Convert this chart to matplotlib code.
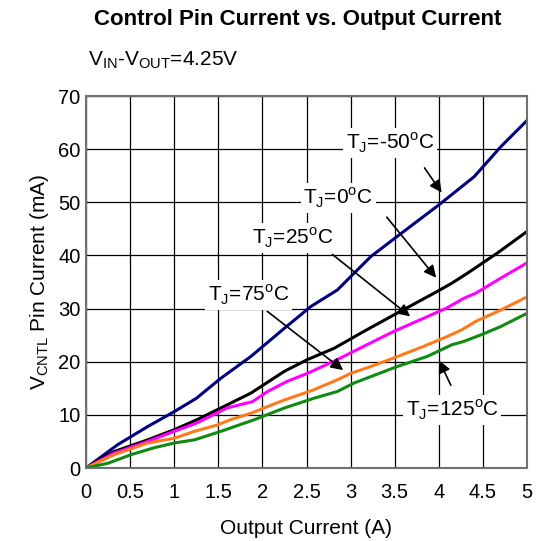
import matplotlib
matplotlib.use('Agg')
import matplotlib.pyplot as plt

plt.rcParams['font.family'] = ['Liberation Sans', 'DejaVu Sans']
plt.rcParams['mathtext.fontset'] = 'custom'
plt.rcParams['mathtext.rm'] = 'Liberation Sans'

# output current (A) vs control pin current (mA), one trace per junction temp
x_m50 = [0, 0.36, 0.70, 1.0, 1.25, 1.53, 1.87, 2.25, 2.55, 2.85, 3.0, 3.23, 3.57, 4.0, 4.40, 4.70, 5.0]
y_m50 = [0, 4.4, 7.8, 10.6, 13.1, 16.9, 21.0, 26.3, 30.4, 33.5, 36.0, 39.8, 44.1, 49.5, 54.8, 60.4, 65.4]

x_0 = [0, 0.32, 0.70, 1.0, 1.26, 1.53, 1.87, 2.25, 2.51, 2.81, 3.15, 3.49, 3.98, 4.15, 4.32, 4.66, 5.0]
y_0 = [0, 3.1, 5.3, 7.2, 9.1, 11.3, 14.1, 18.2, 20.4, 22.5, 25.7, 28.8, 33.2, 34.8, 36.6, 40.4, 44.5]

x_25 = [0, 0.32, 0.70, 1.0, 1.26, 1.60, 1.89, 2.06, 2.28, 2.51, 2.85, 3.15, 3.49, 3.79, 4.09, 4.28, 4.42, 4.70, 5.0]
y_25 = [0, 2.8, 5.0, 6.9, 8.5, 11.3, 12.5, 14.4, 16.3, 17.8, 20.4, 22.9, 25.7, 27.9, 30.1, 31.9, 32.9, 35.7, 38.6]

x_75 = [0, 0.32, 0.70, 1.0, 1.23, 1.49, 1.64, 1.87, 2.02, 2.25, 2.58, 2.85, 3.0, 3.23, 3.49, 3.83, 4.09, 4.26, 4.42, 4.70, 5.0]
y_75 = [0, 2.5, 4.7, 5.6, 6.9, 8.1, 9.1, 10.3, 11.3, 12.8, 14.7, 16.6, 17.8, 19.1, 20.7, 22.9, 24.7, 26.0, 27.6, 29.7, 32.2]

x_125 = [0, 0.25, 0.51, 0.77, 1.0, 1.23, 1.53, 1.91, 2.25, 2.58, 2.85, 3.04, 3.53, 3.87, 4.15, 4.28, 4.47, 4.70, 5.0]
y_125 = [0, 0.9, 2.5, 3.8, 4.7, 5.3, 6.9, 9.1, 11.3, 13.1, 14.4, 16.0, 19.1, 21.0, 23.2, 23.8, 25.0, 26.6, 29.1]

fig = plt.figure(figsize=(5.36, 5.41), dpi=100)
ax = fig.add_axes([86/536, 73/541, 441/536, 372/541])

ax.plot(x_m50, y_m50, color='#000080', lw=2.2)
ax.plot(x_0, y_0, color='black', lw=2.2)
ax.plot(x_25, y_25, color='#ff00ff', lw=2.2)
ax.plot(x_75, y_75, color='#ff7a1a', lw=2.2)
ax.plot(x_125, y_125, color='#108a10', lw=2.2)

ax.set_xlim(0, 5)
ax.set_ylim(0, 70)
ax.set_xticks([0, 0.5, 1, 1.5, 2, 2.5, 3, 3.5, 4, 4.5, 5])
ax.set_xticklabels(['0', '0.5', '1', '1.5', '2', '2.5', '3', '3.5', '4', '4.5', '5'])
ax.set_yticks(range(0, 71, 10))
ax.grid(True, color='black', lw=0.9)
ax.tick_params(length=0, labelsize=14.5)
ax.tick_params(axis='x', pad=11)
ax.tick_params(axis='y', pad=4)
for s in ax.spines.values():
    s.set_color('#707070')
    s.set_linewidth(1.5)

ax.set_xlabel('Output Current (A)', fontsize=15, labelpad=12)
ax.set_ylabel(r'V$_\mathregular{CNTL}$ Pin Current (mA)', fontsize=15, labelpad=5)

fig.text(298/536, 1 - 20/541, 'Control Pin Current vs. Output Current', ha='center', va='center',
         fontsize=16, fontweight='bold')
fig.text(88/536, 1 - 60/541, r'V$_\mathregular{IN}$-V$_\mathregular{OUT}$=4.25V', ha='left', va='center',
         fontsize=15)

# temperature labels with arrows
labels = [
    (r'T$_\mathregular{J}$=-50$^\mathregular{o}$C', (3.45, 61.2), (3.82, 56.9), (4.05, 51.4)),
    (r'T$_\mathregular{J}$=0$^\mathregular{o}$C', (2.86, 50.8), (3.39, 47.6), (3.99, 35.4)),
    (r'T$_\mathregular{J}$=25$^\mathregular{o}$C', (2.34, 43.3), (2.77, 40.5), (3.70, 28.2)),
    (r'T$_\mathregular{J}$=75$^\mathregular{o}$C', (1.84, 32.6), (2.03, 29.8), (2.94, 18.1)),
    (r'T$_\mathregular{J}$=125$^\mathregular{o}$C', (4.15, 10.9), (4.15, 15.1), (3.99, 20.7)),
]
for txt, pos, start, end in labels:
    ax.text(pos[0], pos[1], txt, ha='center', va='center', fontsize=15, zorder=5,
            bbox=dict(facecolor='white', edgecolor='none', pad=2))
    ax.annotate('', xy=end, xytext=start,
                arrowprops=dict(arrowstyle='-|>', color='black', lw=1.2, mutation_scale=18),
                zorder=6)

fig.savefig('out.png', dpi=100)
